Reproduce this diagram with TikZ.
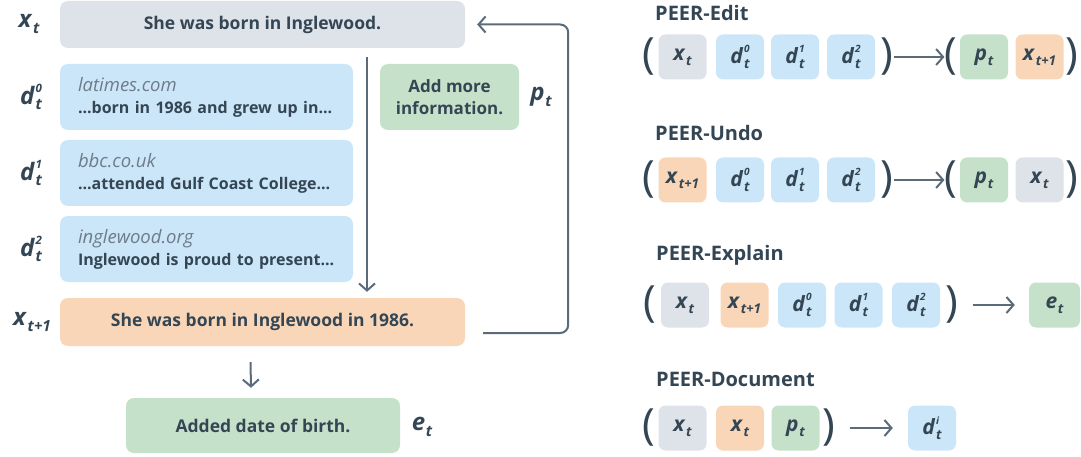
\documentclass[tikz,border=0pt]{standalone}
\usepackage{fontspec}
\setmainfont{Open Sans}
\usetikzlibrary{arrows.meta}
\definecolor{ink}{HTML}{344654}
\definecolor{arrc}{HTML}{5B6B7A}
\definecolor{urlc}{HTML}{6E7B89}
\definecolor{cgray}{HTML}{DEE2E9}
\definecolor{cblue}{HTML}{CBE6F8}
\definecolor{cgreen}{HTML}{C5E1C9}
\definecolor{corange}{HTML}{FAD6B8}
\newcommand\mv[3]{\textbf{\textit{#1}}\kern0.03em\rlap{\raisebox{0.95ex}{\textbf{\textit{\scalebox{0.48}{#3}}}}}\raisebox{-0.42ex}{\textbf{\textit{\scalebox{0.64}{#2}}}}}
\newcommand\url[1]{{\mdseries\itshape\fontsize{18.5}{22}\selectfont\color{urlc}#1}}
\begin{document}
\begin{tikzpicture}[x=1pt,y=-1pt,
  lbl/.style={font=\fontsize{24}{24}\selectfont, text=ink, inner sep=0pt},
  sq/.style={minimum width=48pt, minimum height=45pt, rounded corners=7pt, inner sep=0pt, font=\fontsize{21}{21}\selectfont, text=ink},
  par/.style={font=\fontsize{43}{43}\selectfont, text=ink, inner sep=0pt},
  ttl/.style={font=\bfseries\fontsize{20}{20}\selectfont, text=ink, anchor=west, inner sep=0pt},
  arr/.style={draw=arrc, line width=2pt, -{Straight Barb[length=7pt,width=16pt]}},
  big/.style={rounded corners=8pt, inner sep=0pt, text=ink, font=\bfseries\fontsize{17.5}{22}\selectfont},
  doc/.style={big, fill=cblue, minimum width=293pt, minimum height=66pt, text width=257pt, align=left, font=\bfseries\fontsize{16}{22}\selectfont},
]
\useasboundingbox (0,0) rectangle (1081,457);

% ---------- left panel ----------
\node[big, fill=cgray, minimum width=405pt, minimum height=47pt] (xt) at (262.5,24.5) {She was born in Inglewood.};
\node[doc] (d0) at (206.5,97) {\url{latimes.com}\\...born in 1986 and grew up in...};
\node[doc] (d1) at (206.5,173) {\url{bbc.co.uk}\\...attended Gulf Coast College...};
\node[doc] (d2) at (206.5,249) {\url{inglewood.org}\\Inglewood is proud to present...};
\node[big, fill=cgreen, minimum width=139pt, minimum height=66pt, align=center, font=\bfseries\fontsize{17}{22}\selectfont] (plan) at (449.5,97) {Add more\\information.};
\node[big, fill=corange, minimum width=405pt, minimum height=48pt] (xt1) at (262.5,322) {She was born in Inglewood in 1986.};
\node[big, fill=cgreen, minimum width=274pt, minimum height=55pt] (done) at (263,425.5) {Added date of birth.};

\node[lbl] (lxt) at (29,24) {\mv{x}{t}{}};
\node[lbl] (ld0) at (31,97) {\mv{d}{t}{0}};
\node[lbl] (ld1) at (31,173) {\mv{d}{t}{1}};
\node[lbl] (ld2) at (31,249) {\mv{d}{t}{2}};
\node[lbl] (lxt1) at (32,322) {\mv{x}{t+1}{}};
\node[lbl] (lpt) at (541,97) {\mv{p}{t}{}};
\node[lbl] (let) at (422,427) {\mv{e}{t}{}};

\coordinate (vx) at (367,0);
\draw[arr] ([yshift=-9pt]xt.south -| vx) -- ([yshift=6pt]xt1.north -| vx);
\draw[arr, rounded corners=8pt] ([xshift=18pt,yshift=-11pt]xt1.east) -- ++(85,0) |- ([xshift=12pt]xt.east);
\draw[arr] ([xshift=-12pt,yshift=-16pt]xt1.south) -- ([xshift=-12pt,yshift=10pt]done.north);

% ---------- right panel ----------
% PEER-Edit
\node[ttl] (t1) at (655,13) {PEER-Edit};
\node[par] (a1) at (649,57) {(};
\node[sq, fill=cgray] (a1x) at (682.5,57) {\mv{x}{t}{}};
\node[sq, fill=cblue] (a1d0) at (740,57) {\mv{d}{t}{0}};
\node[sq, fill=cblue] (a1d1) at (795,57) {\mv{d}{t}{1}};
\node[sq, fill=cblue] (a1d2) at (851,57) {\mv{d}{t}{2}};
\node[par] (a1r) at (887,57) {)};
\node[par] (a1l2) at (951,57) {(};
\node[sq, fill=cgreen] (a1p) at (984,57) {\mv{p}{t}{}};
\node[sq, fill=corange] (a1x1) at (1039.5,57) {\mv{x}{t+1}{}};
\node[par] (a1r2) at (1072,57) {)};
\draw[arr] (a1r.east) -- (a1l2.west);

% PEER-Undo
\node[ttl] (t2) at (655,133) {PEER-Undo};
\node[par] (b1) at (649,180) {(};
\node[sq, fill=corange] (b1x1) at (682.5,180) {\mv{x}{t+1}{}};
\node[sq, fill=cblue] (b1d0) at (740,180) {\mv{d}{t}{0}};
\node[sq, fill=cblue] (b1d1) at (795,180) {\mv{d}{t}{1}};
\node[sq, fill=cblue] (b1d2) at (851,180) {\mv{d}{t}{2}};
\node[par] (b1r) at (887,180) {)};
\node[par] (b1l2) at (951,180) {(};
\node[sq, fill=cgreen] (b1p) at (984,180) {\mv{p}{t}{}};
\node[sq, fill=cgray] (b1x) at (1039.5,180) {\mv{x}{t}{}};
\node[par] (b1r2) at (1072,180) {)};
\draw[arr] (b1r.east) -- (b1l2.west);

% PEER-Explain
\node[ttl] (t3) at (656,255) {PEER-Explain};
\node[par] (c1) at (650,305) {(};
\node[sq, fill=cgray] (c1x) at (685,305) {\mv{x}{t}{}};
\node[sq, fill=corange] (c1x1) at (744.5,305) {\mv{x}{t+1}{}};
\node[sq, fill=cblue] (c1d0) at (802,305) {\mv{d}{t}{0}};
\node[sq, fill=cblue] (c1d1) at (858.5,305) {\mv{d}{t}{1}};
\node[sq, fill=cblue] (c1d2) at (916,305) {\mv{d}{t}{2}};
\node[par] (c1r) at (952,305) {)};
\node[sq, fill=cgreen, minimum width=51pt] (c1e) at (1054.5,305) {\mv{e}{t}{}};
\draw[arr] ([xshift=14pt]c1r.east) -- ([xshift=-14pt]c1e.west);

% PEER-Document
\node[ttl] (t4) at (656,379) {PEER-Document};
\node[par] (e1) at (649,428) {(};
\node[sq, fill=cgray] (e1x) at (682.5,428) {\mv{x}{t}{}};
\node[sq, fill=corange] (e1x2) at (740,428) {\mv{x}{t}{}};
\node[sq, fill=cgreen] (e1p) at (795.5,428) {\mv{p}{t}{}};
\node[par] (e1r) at (829,428) {)};
\node[sq, fill=cblue] (e1d) at (932,428) {\mv{d}{t}{i}};
\draw[arr] ([xshift=14pt]e1r.east) -- ([xshift=-15pt]e1d.west);
\end{tikzpicture}
\end{document}
